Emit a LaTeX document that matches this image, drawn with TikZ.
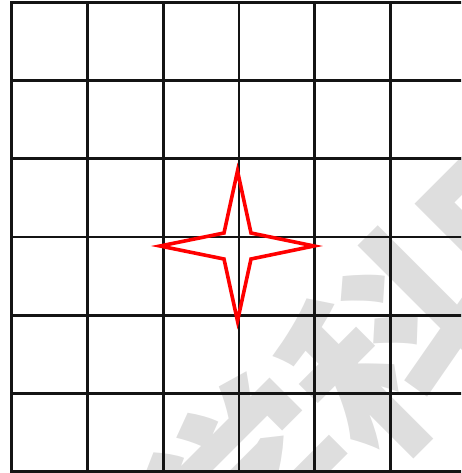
\documentclass[tikz,border=0pt]{standalone}
\usepackage{fontspec}
\newfontfamily\wmfont{Noto Sans CJK SC}
\begin{document}
\begin{tikzpicture}[x=1pt,y=-1pt,
  gridline/.style={line width=2.4pt, draw=black!92, line cap=rect},
  starline/.style={line width=3.6pt, draw=red, line join=miter},
  watermark/.style={text=black!13, font=\wmfont\bfseries\fontsize{200}{200}\selectfont, inner sep=0pt, rotate=45}]
\useasboundingbox (0,0) rectangle (461,473);
\clip (0,0) rectangle (461,473);
% watermark
\node[watermark] (wm) at (393,344) {学科网};
% grid
\foreach \x in {11.5,87.5,163.5,239,314.5,390.5}
  \draw[gridline] (\x,2.5) -- (\x,471.5);
\foreach \y in {2.5,80.5,158.5,237,315.5,393.5,471.5}
  \draw[gridline] (11.5,\y) -- (470,\y);
% star
\draw[starline] (237.5,171) -- (251,233) -- (314,246) -- (251,259)
  -- (237.5,321) -- (224,259) -- (160,246) -- (224,233) -- cycle;
\end{tikzpicture}
\end{document}
